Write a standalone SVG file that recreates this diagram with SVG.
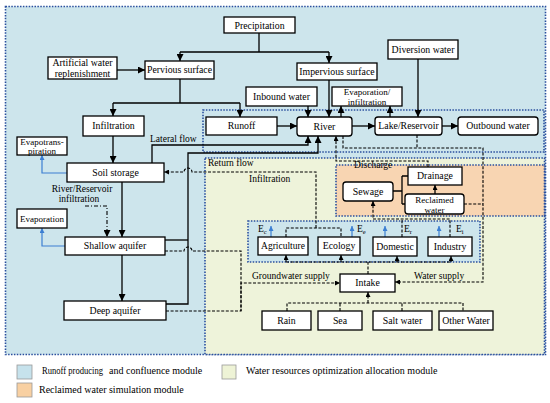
<svg xmlns="http://www.w3.org/2000/svg" width="550" height="403" viewBox="0 0 550 403">
<style>
.box{fill:#fff;stroke:#000;stroke-width:1.3}
.t{font-family:"Liberation Serif","Times New Roman",serif;font-size:9.8px;fill:#000;text-anchor:middle}
.tl{text-anchor:start}
.lb{font-size:9.5px}
.lg{font-size:10px}
.sm{font-size:9px}
.ln{fill:none;stroke:#000;stroke-width:1.3}
.ds{fill:none;stroke:#000;stroke-width:1.1;stroke-dasharray:3 1.6}
.dd{fill:none;stroke:#000;stroke-width:1.1;stroke-dasharray:4 2 1 2}
.bl{fill:none;stroke:#3c7fd2;stroke-width:1.2}
.reg{stroke:#2a4f9e;stroke-width:1.6;stroke-dasharray:1.5 1.4}
.sub{font-size:6.5px}
</style>
<defs>
<marker id="a" viewBox="0 0 10 10" refX="10" refY="5" markerWidth="7" markerHeight="7" markerUnits="userSpaceOnUse" orient="auto"><path d="M0,0 L10,5 L0,10 z" fill="#000"/></marker>
<marker id="s" viewBox="0 0 10 10" refX="10" refY="5" markerWidth="5" markerHeight="5" markerUnits="userSpaceOnUse" orient="auto"><path d="M0,0 L10,5 L0,10 z" fill="#000"/></marker>
<marker id="b" viewBox="0 0 10 10" refX="10" refY="5" markerWidth="5" markerHeight="5" markerUnits="userSpaceOnUse" orient="auto"><path d="M0,0 L10,5 L0,10 z" fill="#3c7fd2"/></marker>
</defs>

<g id="regions">
<rect x="5.5" y="6.5" width="540" height="348" fill="#cde5ec" class="reg"/>
<rect x="203" y="110" width="341" height="42" fill="none" class="reg"/>
<rect x="205" y="158" width="339.5" height="196.5" fill="#eef3da" class="reg"/>
<rect x="336" y="165" width="208.5" height="51" fill="#f8d5b2" class="reg"/>
<rect x="248" y="221" width="232" height="41" fill="#cde5ec" class="reg"/>
</g>

<g id="connectors">
<path class="ln" d="M259,33 L259,52 M180,52 L329,52"/>
<path class="ln" d="M180,52 L180,61" marker-end="url(#a)"/>
<path class="ln" d="M329,52 L329,63" marker-end="url(#a)"/>
<path class="ln" d="M117,70 L145,70" marker-end="url(#a)"/>
<path class="ln" d="M180,79 L180,103 M113,103 L240,103"/>
<path class="ln" d="M113,103 L113,116" marker-end="url(#a)"/>
<path class="ln" d="M240,103 L240,117" marker-end="url(#a)"/>
<path class="ln" d="M329,80 L329,117" marker-end="url(#a)"/>
<path class="ln" d="M308,106 L308,117" marker-end="url(#a)"/>
<path class="ln" d="M341,117 L341,106" marker-end="url(#a)"/>
<path class="ln" d="M390,117 L390,106" marker-end="url(#a)"/>
<path class="ln" d="M418,59 L418,117" marker-end="url(#a)"/>
<path class="ln" d="M277,126 L297,126" marker-end="url(#a)"/>
<path class="ln" d="M352,126 L375,126" marker-end="url(#a)"/>
<path class="ln" d="M442,126 L458,126" marker-end="url(#a)"/>
<path class="ln" d="M113,136 L113,163" marker-end="url(#a)"/>
<path class="ln" d="M152,163 L152,145 L308,145 L308,136" marker-end="url(#a)"/>
<path class="ln" d="M166,304 L188,304 L188,153 L318,153 L318,136" marker-end="url(#a)"/>
<path class="ln" d="M165,240 L188,240"/>
<path class="ln" d="M122,182 L122,237" marker-end="url(#a)"/>
<path class="ln" d="M122,255 L122,301" marker-end="url(#a)"/>
<path class="dd" d="M85,206 L107,206 L107,237" marker-end="url(#a)"/>
<path class="bl" d="M67,173 L42,173 L42,155" marker-end="url(#b)"/>
<path class="bl" d="M65,246 L42,246 L42,228" marker-end="url(#b)"/>
<path class="ds" d="M286,237 L286,228 L341,228 L341,237"/>
<path class="ds" d="M316,228 L316,172 L192,172 A4,4 0 0 0 184,172 L164,172" marker-end="url(#s)"/>
<path class="ds" d="M165,251 L184,251 A4,4 0 0 1 192,251 L241,251 L241,311"/>
<path class="ds" d="M166,311 L241,311 L241,283 L340,283" marker-end="url(#s)"/>
<path class="ds" d="M343,136 L343,148 L483,148 L483,282 L395,282" marker-end="url(#s)"/>
<path class="ds" d="M417,135 L417,148"/>
<path class="ds" d="M464,204 L483,204"/>
<path class="ds" d="M428,167 L428,161 L336,161 L336,136" marker-end="url(#s)"/>
<path class="ln" d="M393,191 L402,191 M402,176 L402,204 M402,176 L408,176 M402,204 L405,204"/>
<path class="ln" d="M435,194 L435,185" marker-end="url(#s)"/>
<path class="ds" d="M402,237 L402,219 M450,237 L450,219 L373,219 L373,201" marker-end="url(#s)"/>
<path class="ds" d="M368,274 L368,262 M286,262 L451,262"/>
<path class="ds" d="M286,262 L286,255" marker-end="url(#s)"/>
<path class="ds" d="M341,262 L341,255" marker-end="url(#s)"/>
<path class="ds" d="M397,262 L397,256" marker-end="url(#s)"/>
<path class="ds" d="M451,262 L451,256" marker-end="url(#s)"/>
<path class="ds" d="M287,311 L287,303 L463,303 L463,311 M340,311 L340,303 M402,311 L402,303"/>
<path class="ds" d="M368,303 L368,292" marker-end="url(#s)"/>
<path class="bl" d="M271,237 L271,226" marker-end="url(#b)"/>
<path class="bl" d="M352,237 L352,226" marker-end="url(#b)"/>
<path class="bl" d="M385,237 L385,226" marker-end="url(#b)"/>
<path class="bl" d="M439,237 L439,226" marker-end="url(#b)"/>
</g>

<g id="labels">
<text class="t tl lb" x="150" y="142">Lateral flow</text>
<text class="t tl lb" x="208" y="166">Return flow</text>
<text class="t tl lb" x="249" y="182">Infiltration</text>
<text class="t lb" x="82" y="192">River/Reservoir</text>
<text class="t lb" x="79" y="201.5">infiltration</text>
<text class="t tl lb" x="354" y="168">Discharge</text>
<text class="t tl lb" x="252" y="279">Groundwater supply</text>
<text class="t tl lb" x="414" y="279">Water supply</text>
<text class="t tl lb" x="258" y="232">E<tspan class="sub" dy="2">c</tspan></text>
<text class="t tl lb" x="357" y="232">E<tspan class="sub" dy="2">e</tspan></text>
<text class="t tl lb" x="404" y="232">E<tspan class="sub" dy="2">r</tspan></text>
<text class="t tl lb" x="456" y="232">E<tspan class="sub" dy="2">i</tspan></text>
</g>

<g id="precipitation"><rect class="box" x="224" y="17" width="71" height="16"/><text class="t" x="259.5" y="28.5">Precipitation</text></g>
<g id="artificial"><rect class="box" x="48" y="57" width="69" height="22"/><text class="t" x="82.5" y="66">Artificial water</text><text class="t" x="82.5" y="76.5">replenishment</text></g>
<g id="pervious"><rect class="box" x="145" y="61" width="69" height="18"/><text class="t" x="179.5" y="73">Pervious surface</text></g>
<g id="impervious"><rect class="box" x="297" y="63" width="80" height="17"/><text class="t" x="337" y="75">Impervious surface</text></g>
<g id="diversion"><rect class="box" x="388" y="40" width="70" height="19"/><text class="t" x="423" y="53">Diversion water</text></g>
<g id="inbound"><rect class="box" x="246" y="87" width="71" height="19"/><text class="t" x="281.5" y="100">Inbound water</text></g>
<g id="evapinf"><rect class="box" x="332" y="87" width="70" height="19"/><text class="t sm" x="367" y="94.5">Evaporation/</text><text class="t sm" x="367" y="104.5">infiltration</text></g>
<g id="runoff"><rect class="box" x="206" y="117" width="71" height="18"/><text class="t" x="241.5" y="129">Runoff</text></g>
<g id="river"><rect class="box" x="297" y="117" width="55" height="19" rx="3"/><text class="t" x="324.5" y="129.5">River</text></g>
<g id="lake"><rect class="box" x="375" y="117" width="67" height="18" rx="3"/><text class="t" x="408.5" y="129">Lake/Reservoir</text></g>
<g id="outbound"><rect class="box" x="458" y="117" width="80" height="18" rx="3"/><text class="t" x="498" y="129">Outbound water</text></g>
<g id="infiltration"><rect class="box" x="83" y="116" width="61" height="20"/><text class="t" x="113.5" y="129">Infiltration</text></g>
<g id="evapotranspiration"><rect class="box" x="17" y="137" width="50" height="18"/><text class="t sm" x="42" y="145">Evapotrans-</text><text class="t sm" x="42" y="154">piration</text></g>
<g id="soil"><rect class="box" x="67" y="163" width="97" height="19"/><text class="t" x="115.5" y="175.5">Soil storage</text></g>
<g id="evaporation"><rect class="box" x="17" y="209" width="50" height="19"/><text class="t sm" x="42" y="222">Evaporation</text></g>
<g id="shallow"><rect class="box" x="65" y="237" width="100" height="18"/><text class="t" x="115" y="249">Shallow aquifer</text></g>
<g id="deep"><rect class="box" x="64" y="301" width="102" height="19"/><text class="t" x="115" y="314">Deep aquifer</text></g>
<g id="sewage"><rect class="box" x="343" y="182" width="50" height="19" rx="3"/><text class="t" x="368" y="194.5">Sewage</text></g>
<g id="drainage"><rect class="box" x="408" y="167" width="54" height="18"/><text class="t" x="435" y="179">Drainage</text></g>
<g id="reclaimed"><rect class="box" x="405" y="194" width="59" height="20" rx="3"/><text class="t sm" x="434.5" y="202.5">Reclaimed</text><text class="t sm" x="434.5" y="212.5">water</text></g>
<g id="agriculture"><rect class="box" x="258" y="237" width="50" height="18"/><text class="t" x="283" y="249" style="font-size:9.5px">Agriculture</text></g>
<g id="ecology"><rect class="box" x="318" y="237" width="42" height="18"/><text class="t" x="339" y="249">Ecology</text></g>
<g id="domestic"><rect class="box" x="373" y="237" width="44" height="19"/><text class="t" x="395" y="249.5">Domestic</text></g>
<g id="industry"><rect class="box" x="428" y="237" width="44" height="19"/><text class="t" x="450" y="249.5">Industry</text></g>
<g id="intake"><rect class="box" x="340" y="274" width="55" height="18"/><text class="t" x="367.5" y="286">Intake</text></g>
<g id="rain"><rect class="box" x="262" y="311" width="49" height="19"/><text class="t" x="286.5" y="324">Rain</text></g>
<g id="sea"><rect class="box" x="318" y="311" width="44" height="19"/><text class="t" x="340" y="324">Sea</text></g>
<g id="salt"><rect class="box" x="373" y="311" width="59" height="19"/><text class="t" x="402.5" y="324">Salt water</text></g>
<g id="other"><rect class="box" x="439" y="311" width="54" height="19"/><text class="t" x="466" y="324">Other Water</text></g>

<g id="legend">
<rect x="17" y="365" width="15" height="14" fill="#c6e2ec" stroke="#999" stroke-width="0.8"/>
<text class="t tl lg" x="42" y="374" textLength="61" lengthAdjust="spacingAndGlyphs">Runoff producing</text>
<text class="t tl lg" x="109" y="374">and confluence module</text>
<rect x="222" y="365" width="14" height="14" fill="#eef3d6" stroke="#999" stroke-width="0.8"/>
<text class="t tl lg" x="246" y="374">Water resources optimization allocation module</text>
<rect x="17" y="383" width="15" height="14" fill="#f8d0a2" stroke="#999" stroke-width="0.8"/>
<text class="t tl lg" x="39" y="393">Reclaimed water simulation module</text>
</g>
</svg>
